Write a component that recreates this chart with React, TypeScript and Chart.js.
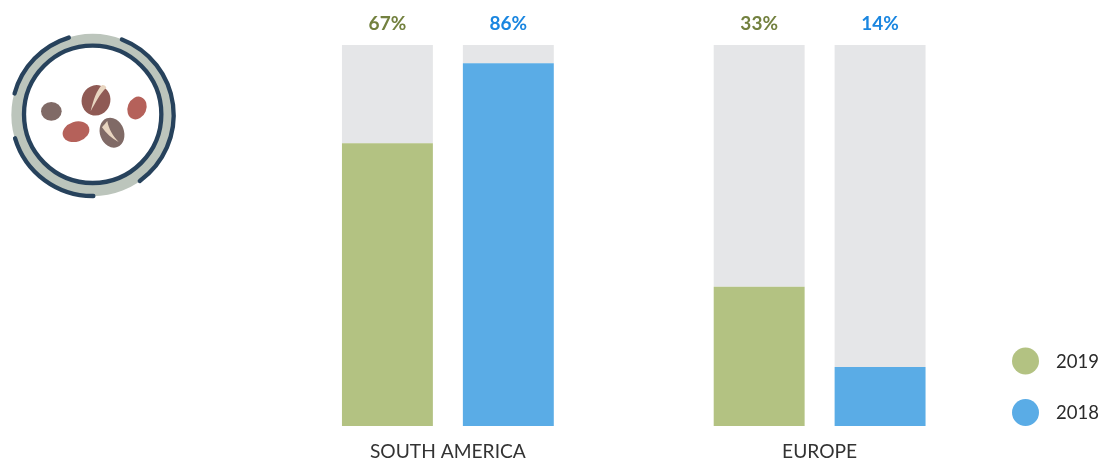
import React, { useEffect, useRef } from "react";
import { Chart, registerables } from "chart.js";

Chart.register(...registerables);

const categories = ["SOUTH AMERICA", "EUROPE"];
const values2019 = [67, 33];
const values2018 = [86, 14];
const axisTop = 90.3;
const legendYears = ["2019", "2018"];

const GREEN = "#b3c282";
const BLUE = "#5aace6";
const TRACK = "#e5e6e8";
const GREEN_TEXT = "#73813f";
const BLUE_TEXT = "#1a86e0";
const FONT = "Lato";

const labelsPlugin = {
  id: "valueLabelsAndLegend",
  afterDraw(chart: any) {
    const { ctx, scales } = chart;
    const top = scales.y.getPixelForValue(axisTop);
    ctx.save();
    ctx.textAlign = "center";
    ctx.textBaseline = "middle";
    ctx.font = `700 19px ${FONT}`;
    [
      { index: 0, data: values2019, color: GREEN_TEXT },
      { index: 2, data: values2018, color: BLUE_TEXT },
    ].forEach(({ index, data, color }) => {
      const meta = chart.getDatasetMeta(index);
      ctx.fillStyle = color;
      data.forEach((v: number, i: number) => {
        ctx.fillText(`${v}%`, meta.data[i].x, top - 21);
      });
    });
    ctx.font = `400 18.5px ${FONT}`;
    ctx.textAlign = "left";
    legendYears.forEach((year, i) => {
      const cy = 361 + i * 51.5;
      ctx.beginPath();
      ctx.arc(1025.5, cy, 13.5, 0, Math.PI * 2);
      ctx.fillStyle = i === 0 ? GREEN : BLUE;
      ctx.fill();
      ctx.fillStyle = "#2b2b2b";
      ctx.fillText(year, 1056, cy + 1);
    });
    ctx.restore();
  },
};

function Icon() {
  const c = { x: 278, y: 285 };
  const r = 243;
  const arc = (a: number[], b: number[]) => {
    const k = (p: number[]) => {
      const l = Math.hypot(p[0], p[1]);
      return `${c.x + (p[0] / l) * r} ${c.y + (p[1] / l) * r}`;
    };
    return `M ${k(a)} A ${r} ${r} 0 0 1 ${k(b)}`;
  };
  return (
    <svg
      width={190}
      height={190}
      viewBox="0 0 570 570"
      style={{ position: "absolute", left: 0, top: 20 }}
    >
      <circle cx={c.x} cy={c.y} r={226} fill="none" stroke="#bcc5bc" strokeWidth={36} />
      <circle cx={c.x} cy={283} r={206} fill="#fff" stroke="#27425c" strokeWidth={13} />
      <g fill="none" stroke="#27425c" strokeWidth={13} strokeLinecap="round">
        <path d={arc([-236, -65], [-73, -237])} />
        <path d={arc([89, -230], [138, 193])} />
        <path d={arc([2, 237], [-233, 70])} />
      </g>
      <ellipse cx={288} cy={241} rx={43} ry={46} transform="rotate(20 288 241)" fill="#8f5a54" />
      <path d="M272 274 C280 240 290 210 306 195 C312 194 318 198 319 203 C300 220 285 250 272 274 Z" fill="#e8d5c0" />
      <ellipse cx={336} cy={338} rx={36} ry={46} transform="rotate(-20 336 338)" fill="#806a66" />
      <path d="M306 322 C312 315 318 308 322 303 C325 325 340 350 356 366 C335 355 318 340 306 322 Z" fill="#e8d5c0" />
      <ellipse cx={154} cy={274} rx={31} ry={28} fill="#806a66" />
      <ellipse cx={228} cy={335} rx={41} ry={30} transform="rotate(-18 228 335)" fill="#b5615a" />
      <ellipse cx={411} cy={264} rx={28} ry={35} transform="rotate(22 411 264)" fill="#b5615a" />
    </svg>
  );
}

export default function App() {
  const ref = useRef<HTMLCanvasElement>(null);
  useEffect(() => {
    document.body.style.margin = "0";
    const bar = { categoryPercentage: 0.6505, barPercentage: 0.752, borderWidth: 0 };
    const chart = new Chart(ref.current!, {
      type: "bar",
      data: {
        labels: categories,
        datasets: [
          { label: "2019", data: values2019, backgroundColor: GREEN, stack: "a", ...bar },
          { label: "2019 rest", data: values2019.map((v) => axisTop - v), backgroundColor: TRACK, stack: "a", ...bar },
          { label: "2018", data: values2018, backgroundColor: BLUE, stack: "b", ...bar },
          { label: "2018 rest", data: values2018.map((v) => axisTop - v), backgroundColor: TRACK, stack: "b", ...bar },
        ],
      },
      options: {
        responsive: false,
        animation: false,
        layout: { padding: { left: 262, right: 93.5, top: 45, bottom: 0 } },
        plugins: { legend: { display: false }, tooltip: { enabled: false } },
        scales: {
          x: {
            stacked: true,
            grid: { display: false },
            border: { display: false },
            afterFit: (s: any) => {
              s.height = 33;
            },
            ticks: {
              padding: 6,
              maxRotation: 0,
              autoSkip: false,
              color: "#333",
              font: { family: FONT, size: 19.2, weight: 400 },
            },
          },
          y: { display: false, stacked: true, min: 0, max: axisTop },
        },
      },
      plugins: [labelsPlugin],
    });
    return () => chart.destroy();
  }, []);
  return (
    <div style={{ position: "relative", width: 1099, height: 459 }}>
      <canvas ref={ref} width={1099} height={459} style={{ position: "absolute", left: 0, top: 0 }} />
      <Icon />
    </div>
  );
}
